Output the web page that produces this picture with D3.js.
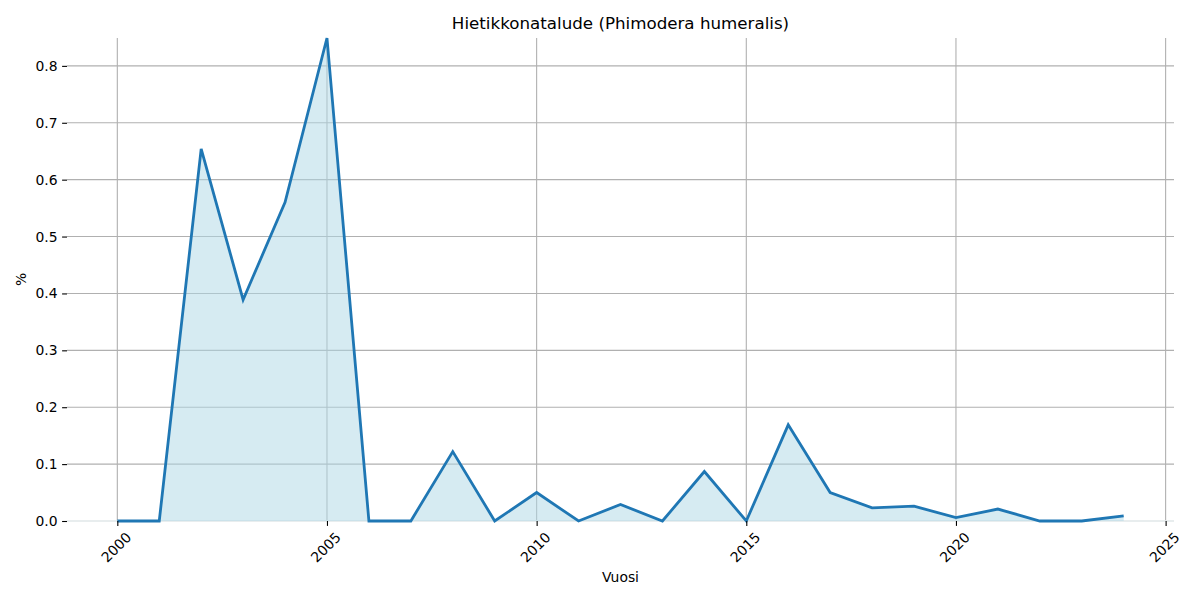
<!DOCTYPE html>
<meta charset="utf-8">
<html>
<head>
  <title>Hietikkonatalude</title>
  <style>
    body { margin: 0; background: #fff; }
    svg text { font-family: 'DejaVu Sans', sans-serif; fill: #000; }
    .grid line { stroke: #b0b0b0; stroke-width: 1.1px; }
  </style>
  <script src="https://d3js.org/d3.v7.min.js"></script>
</head>
<body>
  <svg width="1200" height="600"></svg>
  <script>
    // yearly share (%) of the species
    var years = [2000, 2001, 2002, 2003, 2004, 2005, 2006, 2007, 2008, 2009, 2010, 2011, 2012,
                 2013, 2014, 2015, 2016, 2017, 2018, 2019, 2020, 2021, 2022, 2023, 2024];
    var percent = [0, 0, 0.654, 0.389, 0.560, 0.849, 0, 0, 0.122, 0, 0.050, 0, 0.029,
                   0, 0.087, 0, 0.169, 0.050, 0.023, 0.026, 0.006, 0.021, 0, 0, 0.009];
    var xTicks = [2000, 2005, 2010, 2015, 2020, 2025];
    var yTicks = [0, 0.1, 0.2, 0.3, 0.4, 0.5, 0.6, 0.7, 0.8];

    var data = years.map(function(y, i) { return {year: y, value: percent[i]}; });

    var svg = d3.select("svg");
    var margin = {top: 38, right: 26, bottom: 79, left: 67};
    var width = 1200 - margin.left - margin.right;
    var height = 600 - margin.top - margin.bottom;

    // matplotlib style 5% padding on x
    var span = d3.max(years) - d3.min(years);
    var x = d3.scaleLinear()
      .domain([d3.min(years) - span * 0.05, d3.max(years) + span * 0.05])
      .range([0, width]);
    var y = d3.scaleLinear()
      .domain([0, d3.max(percent)])
      .range([height, 0]);

    var g = svg.append("g")
      .attr("transform", "translate(" + margin.left + "," + margin.top + ")");

    // grid
    g.append("g").attr("class", "grid")
      .selectAll("line").data(xTicks).enter().append("line")
      .attr("x1", function(d) { return x(d); }).attr("x2", function(d) { return x(d); })
      .attr("y1", 0).attr("y2", height);
    g.append("g").attr("class", "grid")
      .selectAll("line").data(yTicks).enter().append("line")
      .attr("y1", function(d) { return y(d); }).attr("y2", function(d) { return y(d); })
      .attr("x1", 0).attr("x2", width);

    // faint zero line
    g.append("line")
      .attr("x1", 0).attr("x2", width)
      .attr("y1", y(0)).attr("y2", y(0))
      .attr("stroke", "#eef4f6").attr("stroke-width", 1.5);

    // filled area
    var area = d3.area()
      .x(function(d) { return x(d.year); })
      .y0(y(0))
      .y1(function(d) { return y(d.value); });
    g.append("path")
      .datum(data)
      .attr("d", area)
      .attr("fill", "#add8e6")
      .attr("fill-opacity", 0.5);

    var line = d3.line()
      .x(function(d) { return x(d.year); })
      .y(function(d) { return y(d.value); });
    g.append("path")
      .datum(data)
      .attr("d", line)
      .attr("fill", "none")
      .attr("stroke", "#1f77b4")
      .attr("stroke-width", 2.8);

    // x axis
    var xAxis = g.append("g")
      .attr("transform", "translate(0," + height + ")")
      .call(d3.axisBottom(x).tickValues(xTicks).tickFormat(d3.format("d")).tickSize(4.9).tickPadding(3.5));
    xAxis.attr("font-size", null).attr("font-family", null);
    xAxis.select(".domain").remove();
    xAxis.selectAll(".tick line").attr("stroke", "#000").attr("stroke-width", 1.1);
    xAxis.selectAll(".tick text")
      .attr("y", 0).attr("dy", null)
      .attr("font-size", "13.9px")
      .attr("text-anchor", "middle")
      .attr("dominant-baseline", "middle")
      .attr("transform", "translate(-1,27) rotate(-45)");

    // y axis
    var yAxis = g.append("g")
      .call(d3.axisLeft(y).tickValues(yTicks).tickFormat(d3.format(".1f")).tickSize(4.9).tickPadding(4.5));
    yAxis.attr("font-size", null).attr("font-family", null);
    yAxis.select(".domain").remove();
    yAxis.selectAll(".tick line").attr("stroke", "#000").attr("stroke-width", 1.1);
    yAxis.selectAll(".tick text").attr("font-size", "13.9px");

    // title and labels
    svg.append("text")
      .attr("x", margin.left + width / 2).attr("y", 29)
      .attr("text-anchor", "middle")
      .style("font-size", "16.7px")
      .text("Hietikkonatalude (Phimodera humeralis)");

    svg.append("text")
      .attr("x", margin.left + width / 2).attr("y", 582)
      .attr("text-anchor", "middle")
      .style("font-size", "13.9px")
      .text("Vuosi");

    svg.append("text")
      .attr("transform", "translate(26," + (margin.top + height / 2) + ") rotate(-90)")
      .attr("text-anchor", "middle")
      .style("font-size", "13.9px")
      .text("%");
  </script>
</body>
</html>
